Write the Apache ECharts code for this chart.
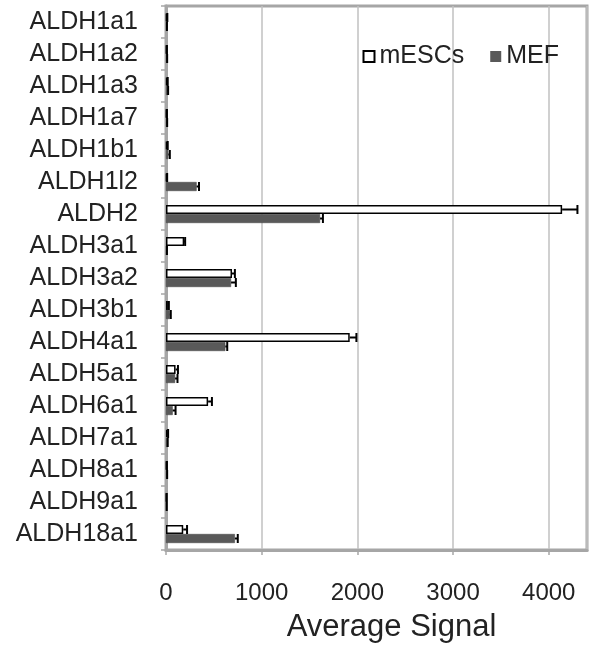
<!DOCTYPE html>
<html>
<head>
<meta charset="utf-8">
<script src="https://cdn.jsdelivr.net/npm/echarts@6/dist/echarts.min.js"></script>
<style>
  html, body { margin: 0; padding: 0; background: #fff; }
  #chart { width: 590px; height: 651px; }
</style>
</head>
<body>
<div id="chart"></div>
<script>
const genes = ['ALDH1a1', 'ALDH1a2', 'ALDH1a3', 'ALDH1a7', 'ALDH1b1', 'ALDH1l2', 'ALDH2',
  'ALDH3a1', 'ALDH3a2', 'ALDH3b1', 'ALDH4a1', 'ALDH5a1', 'ALDH6a1', 'ALDH7a1',
  'ALDH8a1', 'ALDH9a1', 'ALDH18a1'];
const mescVals = [8, 6, 12, 6, 10, 8, 4140, 190, 690, 20, 1920, 100, 440, 15, 6, 5, 180];
const mescErr  = [14, 10, 18, 10, 18, 12, 4300, 200, 720, 30, 1990, 125, 480, 22, 10, 8, 220];
const mefVals  = [6, 8, 16, 8, 25, 320, 1610, 6, 680, 40, 620, 95, 70, 12, 8, 5, 720];
const mefErr   = [10, 12, 22, 12, 40, 345, 1640, 10, 730, 50, 640, 120, 100, 18, 12, 8, 750];
const xTicks = [0, 1000, 2000, 3000, 4000];

const chart = echarts.init(document.getElementById('chart'));
const BW = 9;

function errSeries(vals, errs, side) {
  return {
    type: 'custom',
    silent: true,
    z: 5,
    data: vals.map((v, i) => [v, i, errs[i]]),
    encode: { x: 0, y: 1 },
    renderItem: function (params, api) {
      const start = api.coord([api.value(0), api.value(1)]);
      const end = api.coord([api.value(2), api.value(1)]);
      const cy = start[1] + side * BW / 2;
      const st = { stroke: '#000', lineWidth: 2 };
      return {
        type: 'group',
        children: [
          { type: 'line', shape: { x1: start[0], y1: cy, x2: end[0], y2: cy }, style: st },
          { type: 'line', shape: { x1: end[0], y1: cy - 4.5, x2: end[0], y2: cy + 4.5 }, style: st }
        ]
      };
    }
  };
}

const option = {
  animation: false,
  textStyle: { fontFamily: 'Liberation Sans, Arial, sans-serif' },
  grid: { left: 166, right: 3, top: 6, bottom: 101, show: true, borderColor: '#a6a6a6', borderWidth: 3 },
  legend: {
    right: 26, top: 39,
    itemWidth: 11, itemHeight: 11, itemGap: 26,
    textStyle: { fontSize: 25, color: '#222' },
    data: [
      { name: 'mESCs', icon: 'rect', itemStyle: { color: '#fff', borderColor: '#000', borderWidth: 2 } },
      { name: 'MEF', icon: 'rect', itemStyle: { color: '#595959', borderWidth: 0 } }
    ]
  },
  xAxis: {
    type: 'value', min: 0, max: 4400, interval: 1000,
    name: 'Average Signal', nameLocation: 'middle', nameGap: 62,
    nameTextStyle: { fontSize: 31, color: '#222', padding: [0, 0, 0, 30] },
    axisLine: { show: true, lineStyle: { color: '#a6a6a6', width: 3 } },
    axisTick: { show: true, length: 5, lineStyle: { color: '#a6a6a6', width: 1.5 } },
    axisLabel: {
      fontSize: 24, color: '#222', margin: 31, showMaxLabel: false,
      formatter: v => xTicks.includes(v) ? String(v) : ''
    },
    splitLine: { show: true, lineStyle: { color: '#c0c0c0', width: 1.5 } }
  },
  yAxis: {
    type: 'category', data: genes, inverse: true,
    axisLine: { show: true, lineStyle: { color: '#a6a6a6', width: 3 } },
    axisTick: { show: true, length: 5, lineStyle: { color: '#a6a6a6', width: 1.5 } },
    axisLabel: { fontSize: 25, color: '#222', margin: 28, interval: 0, hideOverlap: false }
  },
  series: [
    {
      name: 'mESCs', type: 'bar', data: mescVals, barWidth: BW, barGap: '0%',
      itemStyle: { color: '#fff', borderColor: '#000', borderWidth: 1.5 }
    },
    {
      name: 'MEF', type: 'bar', data: mefVals, barWidth: BW, barGap: '0%',
      itemStyle: { color: '#595959', borderColor: '#404040', borderWidth: 0.5 }
    },
    errSeries(mescVals, mescErr, -1),
    errSeries(mefVals, mefErr, 1)
  ]
};
chart.setOption(option);
</script>
</body>
</html>
